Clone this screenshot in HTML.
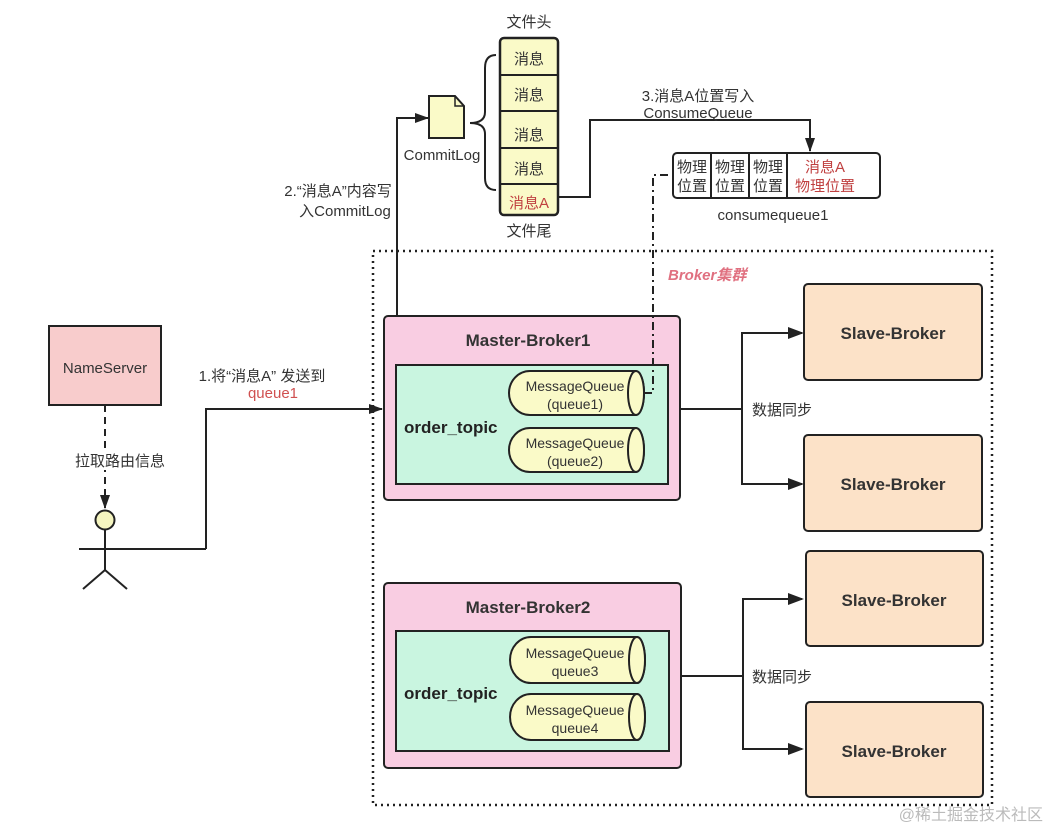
<!DOCTYPE html>
<html><head><meta charset="utf-8"><style>
body{margin:0;background:#fff;}
svg{display:block;font-family:"Liberation Sans","Noto Sans CJK SC",sans-serif;}
</style></head><body>
<svg width="1048" height="830" viewBox="0 0 1048 830" xmlns="http://www.w3.org/2000/svg">
<defs>
<marker id="ar2" markerWidth="14" markerHeight="10" refX="13" refY="5" orient="auto" markerUnits="userSpaceOnUse"><path d="M0,0 L14,5 L0,10 z" fill="#222"/></marker>
</defs>
<g stroke="#222" stroke-width="2" fill="none">
<rect x="373" y="251" width="619" height="554" stroke-dasharray="2,4" stroke-width="2.5"/>
</g>
<text x="668" y="280" font-size="15" font-weight="bold" font-style="italic" fill="#e07080">Broker集群</text>

<rect x="49" y="326" width="112" height="79" fill="#f8cccc" stroke="#222" stroke-width="2"/>
<text x="105" y="373" font-size="15" text-anchor="middle" fill="#333">NameServer</text>
<line x1="105" y1="405" x2="105" y2="508" stroke="#222" stroke-width="2" stroke-dasharray="7,5" marker-end="url(#ar2)"/>
<rect x="72" y="450" width="96" height="20" fill="#fff"/>
<text x="120" y="466" font-size="15" text-anchor="middle" fill="#333">拉取路由信息</text>
<circle cx="105" cy="520" r="9.5" fill="#f5f5c0" stroke="#222" stroke-width="2"/>
<g stroke="#222" stroke-width="2" fill="none">
<line x1="105" y1="530" x2="105" y2="570"/>
<line x1="79" y1="549" x2="206" y2="549"/>
<line x1="105" y1="570" x2="83" y2="589"/>
<line x1="105" y1="570" x2="127" y2="589"/>
<polyline points="206,549 206,409 382,409" marker-end="url(#ar2)"/>
</g>
<text x="262" y="381" font-size="15" text-anchor="middle" fill="#333">1.将“消息A” 发送到</text>
<text x="273" y="398" font-size="15" text-anchor="middle" fill="#d05050">queue1</text>

<polyline points="397,316 397,118 428,118" stroke="#222" stroke-width="2" fill="none" marker-end="url(#ar2)"/>
<text x="338" y="196" font-size="15" text-anchor="middle" fill="#333">2.“消息A”内容写</text>
<text x="345" y="216" font-size="15" text-anchor="middle" fill="#333">入CommitLog</text>
<path d="M429,96 L455,96 L464,106 L464,138 L429,138 z" fill="#fafac8" stroke="#222" stroke-width="2"/>
<path d="M455,96 L455,106 L464,106" fill="none" stroke="#222" stroke-width="1.5"/>
<text x="442" y="160" font-size="15" text-anchor="middle" fill="#333">CommitLog</text>
<path d="M496,55 Q485,55 485,68 L485,112 Q485,123 470,123 Q485,123 485,134 L485,178 Q485,190 496,190" fill="none" stroke="#222" stroke-width="2"/>
<rect x="500" y="38" width="58" height="177" rx="4" fill="#fafac8" stroke="#222" stroke-width="2.5"/>
<g stroke="#222" stroke-width="2"><line x1="500" y1="75" x2="558" y2="75"/><line x1="500" y1="111" x2="558" y2="111"/><line x1="500" y1="148" x2="558" y2="148"/><line x1="500" y1="184" x2="558" y2="184"/></g>
<g font-size="15" text-anchor="middle" fill="#333">
<text x="529" y="27">文件头</text>
<text x="529" y="64">消息</text><text x="529" y="100">消息</text><text x="529" y="140">消息</text><text x="529" y="174">消息</text>
<text x="529" y="208" fill="#c04040">消息A</text>
<text x="529" y="236">文件尾</text>
</g>
<polyline points="558,197 590,197 590,120 810,120 810,151" fill="none" stroke="#222" stroke-width="2" marker-end="url(#ar2)"/>
<text x="698" y="101" font-size="15" text-anchor="middle" fill="#333">3.消息A位置写入</text>
<text x="698" y="118" font-size="15" text-anchor="middle" fill="#333">ConsumeQueue</text>
<rect x="673" y="153" width="207" height="45" rx="4" fill="#fff" stroke="#222" stroke-width="2"/>
<g stroke="#222" stroke-width="2"><line x1="711" y1="153" x2="711" y2="198"/><line x1="749" y1="153" x2="749" y2="198"/><line x1="787" y1="153" x2="787" y2="198"/></g>
<g font-size="15" text-anchor="middle" fill="#333">
<text x="692" y="172">物理</text><text x="692" y="191">位置</text>
<text x="730" y="172">物理</text><text x="730" y="191">位置</text>
<text x="768" y="172">物理</text><text x="768" y="191">位置</text>
<text x="825" y="172" fill="#c04040">消息A</text><text x="825" y="191" fill="#c04040">物理位置</text>
<text x="773" y="220">consumequeue1</text>
</g>

<rect x="384" y="316" width="296" height="184" rx="4" fill="#f9cde2" stroke="#222" stroke-width="2"/>
<text x="528" y="346" font-size="17" font-weight="bold" text-anchor="middle" fill="#333">Master-Broker1</text>
<rect x="396" y="365" width="272" height="119" fill="#c9f5e0" stroke="#222" stroke-width="2"/>
<text x="404" y="433" font-size="17" font-weight="bold" fill="#222">order_topic</text>
<rect x="384" y="583" width="297" height="185" rx="4" fill="#f9cde2" stroke="#222" stroke-width="2"/>
<text x="528" y="613" font-size="17" font-weight="bold" text-anchor="middle" fill="#333">Master-Broker2</text>
<rect x="396" y="631" width="273" height="120" fill="#c9f5e0" stroke="#222" stroke-width="2"/>
<text x="404" y="699" font-size="17" font-weight="bold" fill="#222">order_topic</text>

<g stroke="#222" stroke-width="2" fill="#fafac8">
<path d="M530,371 L636,371 A8,22 0 0 1 636,415 L530,415 A21,22 0 0 1 530,371 z"/><ellipse cx="636" cy="393" rx="8" ry="22"/>
<path d="M530,428 L636,428 A8,22 0 0 1 636,472 L530,472 A21,22 0 0 1 530,428 z"/><ellipse cx="636" cy="450" rx="8" ry="22"/>
<path d="M531,637 L637,637 A8,23 0 0 1 637,683 L531,683 A21,23 0 0 1 531,637 z"/><ellipse cx="637" cy="660" rx="8" ry="23"/>
<path d="M531,694 L637,694 A8,23 0 0 1 637,740 L531,740 A21,23 0 0 1 531,694 z"/><ellipse cx="637" cy="717" rx="8" ry="23"/>
</g>
<polyline points="668,175 653,175 653,393 644,393" fill="none" stroke="#222" stroke-width="2" stroke-dasharray="8,4,2,4"/>
<g font-size="14" text-anchor="middle" fill="#333">
<text x="575" y="391">MessageQueue</text><text x="575" y="409">(queue1)</text>
<text x="575" y="448">MessageQueue</text><text x="575" y="466">(queue2)</text>
<text x="575" y="658">MessageQueue</text><text x="575" y="676">queue3</text>
<text x="575" y="715">MessageQueue</text><text x="575" y="733">queue4</text>
</g>

<g stroke="#222" stroke-width="2" fill="none">
<line x1="680" y1="409" x2="742" y2="409"/>
<polyline points="802,333 742,333 742,484 802,484" />
<line x1="681" y1="676" x2="743" y2="676"/>
<polyline points="802,599 743,599 743,749 802,749"/>
</g>
<g fill="#222">
<path d="M788,327 L804,333 L788,339 z"/><path d="M788,478 L804,484 L788,490 z"/>
<path d="M788,593 L804,599 L788,605 z"/><path d="M788,743 L804,749 L788,755 z"/>
</g>
<text x="752" y="415" font-size="15" fill="#333">数据同步</text>
<text x="752" y="682" font-size="15" fill="#333">数据同步</text>

<g fill="#fce2c8" stroke="#222" stroke-width="2">
<rect x="804" y="284" width="178" height="96" rx="4"/>
<rect x="804" y="435" width="178" height="96" rx="4"/>
<rect x="806" y="551" width="177" height="95" rx="4"/>
<rect x="806" y="702" width="177" height="95" rx="4"/>
</g>
<g font-size="17" font-weight="bold" text-anchor="middle" fill="#333">
<text x="893" y="339">Slave-Broker</text>
<text x="893" y="490">Slave-Broker</text>
<text x="894" y="606">Slave-Broker</text>
<text x="894" y="757">Slave-Broker</text>
</g>
<text x="1043" y="820" font-size="16" text-anchor="end" fill="#bbb">@稀土掘金技术社区</text>
</svg>
</body></html>
